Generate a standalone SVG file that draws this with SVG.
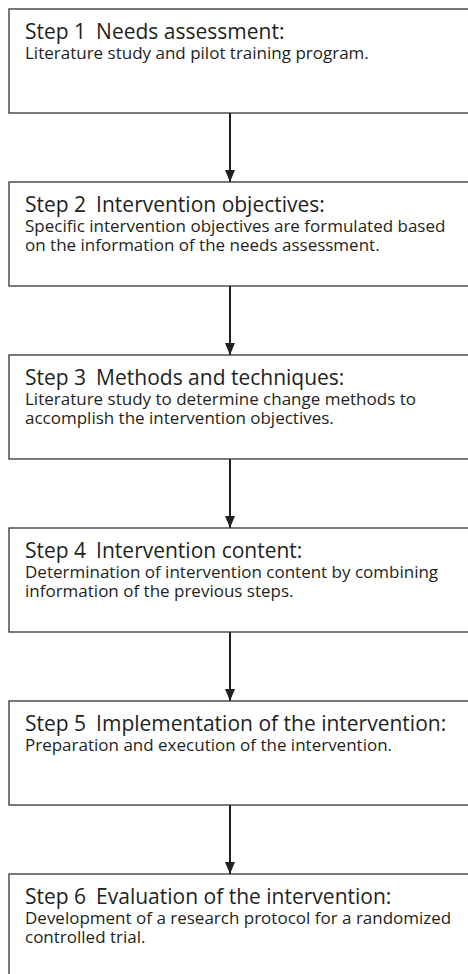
<svg xmlns="http://www.w3.org/2000/svg" width="468" height="974" viewBox="0 0 468 974">
<defs>
<marker id="ah" viewBox="0 0 12 10" refX="12" refY="5" markerWidth="12" markerHeight="10" markerUnits="userSpaceOnUse" orient="auto">
<path d="M0,0 L12,5 L0,10 Z" fill="#231f20"/>
</marker>
<style>
.box{fill:#fff;stroke:#333;stroke-width:1.3}
.h{font-family:"Open Sans","Noto Sans",sans-serif;font-size:21px;fill:#231f20}
.b{font-family:"Open Sans","Noto Sans",sans-serif;font-size:17px;fill:#231f20}
.c{stroke:#231f20;stroke-width:2;fill:none}
</style>
</defs>
<rect width="468" height="974" fill="#fff"/>
<g id="connectors">
<line class="c" x1="230" y1="113" x2="230" y2="182" marker-end="url(#ah)"/>
<line class="c" x1="230" y1="286" x2="230" y2="355" marker-end="url(#ah)"/>
<line class="c" x1="230" y1="459" x2="230" y2="528" marker-end="url(#ah)"/>
<line class="c" x1="230" y1="632" x2="230" y2="701" marker-end="url(#ah)"/>
<line class="c" x1="230" y1="805" x2="230" y2="874" marker-end="url(#ah)"/>
</g>
<g id="step1">
<rect class="box" x="9" y="9" width="470" height="104"/>
<text class="h" x="25" y="39">Step 1<tspan dx="10">Needs assessment:</tspan></text>
<text class="b" x="25" y="59">Literature study and pilot training program.</text>
</g>
<g id="step2">
<rect class="box" x="9" y="182" width="470" height="104"/>
<text class="h" x="25" y="212">Step 2<tspan dx="10">Intervention objectives:</tspan></text>
<text class="b" x="25" y="232">Specific intervention objectives are formulated based</text>
<text class="b" x="25" y="251">on the information of the needs assessment.</text>
</g>
<g id="step3">
<rect class="box" x="9" y="355" width="470" height="104"/>
<text class="h" x="25" y="385">Step 3<tspan dx="10">Methods and techniques:</tspan></text>
<text class="b" x="25" y="405">Literature study to determine change methods to</text>
<text class="b" x="25" y="424">accomplish the intervention objectives.</text>
</g>
<g id="step4">
<rect class="box" x="9" y="528" width="470" height="104"/>
<text class="h" x="25" y="558">Step 4<tspan dx="10">Intervention content:</tspan></text>
<text class="b" x="25" y="578">Determination of intervention content by combining</text>
<text class="b" x="25" y="597">information of the previous steps.</text>
</g>
<g id="step5">
<rect class="box" x="9" y="701" width="470" height="104"/>
<text class="h" x="25" y="731">Step 5<tspan dx="10">Implementation of the intervention:</tspan></text>
<text class="b" x="25" y="751">Preparation and execution of the intervention.</text>
</g>
<g id="step6">
<rect class="box" x="9" y="874" width="470" height="104"/>
<text class="h" x="25" y="904">Step 6<tspan dx="10">Evaluation of the intervention:</tspan></text>
<text class="b" x="25" y="924">Development of a research protocol for a randomized</text>
<text class="b" x="25" y="943">controlled trial.</text>
</g>
</svg>
